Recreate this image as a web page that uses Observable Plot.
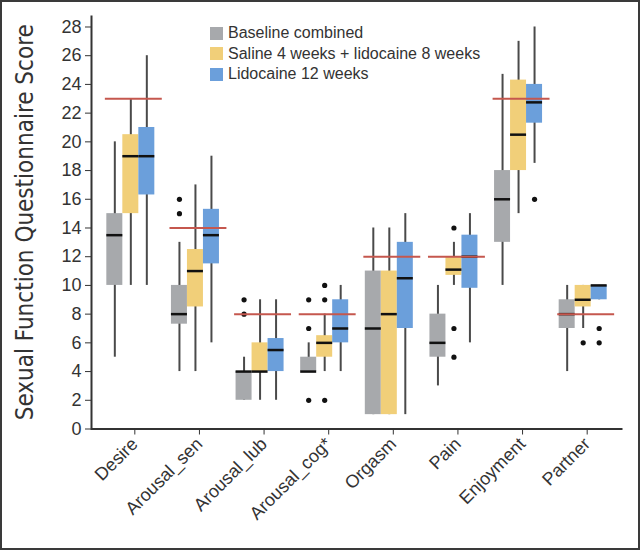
<!DOCTYPE html>
<html><head><meta charset="utf-8">
<script src="https://cdn.jsdelivr.net/npm/d3@7"></script>
<script src="https://cdn.jsdelivr.net/npm/@observablehq/plot@0.6"></script>
<style>
body{margin:0;background:#fff;}
#wrap{position:relative;width:640px;height:550px;overflow:hidden;font-family:"Liberation Sans",Arial,sans-serif;background:#fff;}
#chart{position:absolute;left:0;top:0;}
#border{position:absolute;left:0;top:0;width:640px;height:550px;box-sizing:border-box;border:2px solid #3a3a3a;pointer-events:none;}
#legend{position:absolute;left:210px;top:23px;font-size:16px;color:#333;line-height:20.5px;}
.item{display:flex;align-items:center;height:20.5px;white-space:nowrap;}
.sw{width:13px;height:13px;margin-right:5px;flex:none;}
g[aria-label="y-axis label"] text{font-family:"Liberation Sans Narrow","DejaVu Sans Condensed",sans-serif;font-size:24px;fill:#333;}
</style>
</head><body>
<div id="wrap"><div id="chart"></div><div id="legend"></div><div id="border"></div></div>
<script>
// ---- data ----
const categories = ["Desire","Arousal_sen","Arousal_lub","Arousal_cog*","Orgasm","Pain","Enjoyment","Partner"];
const seriesNames = ["Baseline combined","Saline 4 weeks + lidocaine 8 weeks","Lidocaine 12 weeks"];
const seriesColors = ["#a7a9ac","#f1cf79","#6b9fdb"];
const yTicks = [0,2,4,6,8,10,12,14,16,18,20,22,24,26,28];
const yLabel = "Sexual Function Questionnaire Score";

const baselineMin    = [5, 4, 2, 4, 1, 3, 10, 4];
const baselineQ1     = [10, 7.3, 2, 4, 1, 5, 13, 7];
const baselineMedian = [13.5, 8, 4, 4, 7, 6, 16, 8];
const baselineQ3     = [15, 10, 4, 5, 11, 8, 18, 9];
const baselineMax    = [20, 13, 5, 6, 14, 10, 24.7, 10];
const baselineOutliers = [[], [15, 16], [8, 9], [2, 7, 9], [], [], [], []];

const salineMin    = [10, 4, 2, 4, 1, 10, 15, 7];
const salineQ1     = [15, 8.5, 4, 5, 1, 10.7, 18, 8.5];
const salineMedian = [19, 11, 4, 6, 8, 11.1, 20.5, 9];
const salineQ3     = [20.5, 12.5, 6, 6.5, 11, 12, 24.3, 10];
const salineMax    = [23, 17, 9, 8, 14, 13, 27, 10];
const salineOutliers = [[], [], [], [2, 9, 10], [], [5, 7, 14], [], [6]];

const lidoMin    = [10, 6, 2, 4, 1, 6, 18.5, 9];
const lidoQ1     = [16.3, 11.5, 4, 6, 7, 9.8, 21.3, 9];
const lidoMedian = [19, 13.5, 5.5, 7, 10.5, 12, 22.75, 10];
const lidoQ3     = [21, 15.3, 6.3, 9, 13, 13.5, 24, 10];
const lidoMax    = [26, 19, 9, 10, 15, 15, 28, 10];
const lidoOutliers = [[], [], [], [], [], [], [16], [6, 7]];

const norms = [23, 14, 8, 8, 12, 12, 23, 8];

// ---- build tables ----
const mins = [baselineMin, salineMin, lidoMin];
const q1s = [baselineQ1, salineQ1, lidoQ1];
const meds = [baselineMedian, salineMedian, lidoMedian];
const q3s = [baselineQ3, salineQ3, lidoQ3];
const maxs = [baselineMax, salineMax, lidoMax];
const outs = [baselineOutliers, salineOutliers, lidoOutliers];

const W = 640, H = 550;
const ml = 91, mr = 18, mt = 15, mb = 121.5;
const pInner = 0.119, pOuter = 0.168;
const step = (W - ml - mr) / (categories.length - pInner + 2 * pOuter);
const band = step * (1 - pInner);
const boxW = 16;
const ins = band / 2 - boxW / 2;
const offsets = [-16, 0, 16];
const fw = W - ml - mr, fh = H - mt - mb;

const boxMarks = [], medMarks = [];
seriesNames.forEach((s, j) => {
  const rows = categories.map((c, i) => ({cat: c, min: mins[j][i], q1: q1s[j][i], med: meds[j][i], q3: q3s[j][i], max: maxs[j][i]}));
  const od = [];
  categories.forEach((c, i) => outs[j][i].forEach(v => od.push({cat: c, v})));
  boxMarks.push(Plot.ruleX(rows, {x: "cat", y1: "min", y2: "max", dx: offsets[j], stroke: "#4a4a4a", strokeWidth: 2}));
  boxMarks.push(Plot.barY(rows, {x: "cat", y1: "q1", y2: "q3", fill: seriesColors[j], insetLeft: ins, insetRight: ins, dx: offsets[j]}));
  boxMarks.push(Plot.dot(od, {x: "cat", y: "v", r: 2.6, fill: "#111", stroke: "none", dx: offsets[j]}));
  medMarks.push(Plot.tickY(rows, {x: "cat", y: "med", stroke: "#111", strokeWidth: 2.5, insetLeft: ins, insetRight: ins, dx: offsets[j]}));
});

const normRows = categories.map((c, i) => ({cat: c, v: norms[i]}));

const chart = Plot.plot({
  width: W, height: H,
  marginLeft: ml, marginRight: mr, marginTop: mt, marginBottom: mb,
  style: {background: "#fff", color: "#333", fontFamily: "Liberation Sans, Arial, sans-serif"},
  x: {type: "band", domain: categories, paddingInner: pInner, paddingOuter: pOuter, round: false, label: null},
  y: {domain: [0, 28.8], label: null},
  marks: [
    ...boxMarks,
    ...medMarks,
    Plot.tickY(normRows, {x: "cat", y: "v", stroke: "#c5574e", strokeWidth: 2, dx: 3}),
    Plot.frame({stroke: "#333", strokeWidth: 2, strokeDasharray: `0,${fw + fh},${fw + fh}`}),
    Plot.axisY({ticks: yTicks, tickSize: 6, tickPadding: 4, fontSize: 18, label: yLabel, labelArrow: "none", labelAnchor: "center", labelOffset: 76}),
    Plot.axisX({tickRotate: -45, tickSize: 6, tickPadding: 6, fontSize: 18, dx: 4, label: null})
  ]
});
// strip any arrow the library may add to the axis label
chart.querySelectorAll('g[aria-label="y-axis label"] text').forEach(t => { t.textContent = yLabel; });
document.getElementById("chart").appendChild(chart);

const leg = document.getElementById("legend");
seriesNames.forEach((s, j) => {
  const it = document.createElement("div"); it.className = "item";
  const sw = document.createElement("span"); sw.className = "sw"; sw.style.background = seriesColors[j];
  const t = document.createElement("span"); t.textContent = s;
  it.appendChild(sw); it.appendChild(t); leg.appendChild(it);
});
</script>
</body></html>
